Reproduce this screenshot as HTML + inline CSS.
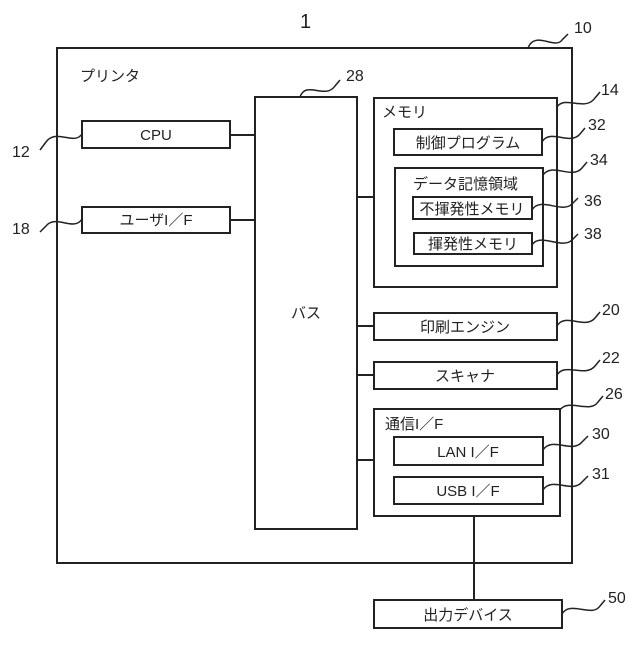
<!DOCTYPE html>
<html><head><meta charset="utf-8"><style>
html,body{margin:0;padding:0;background:#fff}
text{font-family:"Liberation Sans","Noto Sans CJK JP",sans-serif;fill:#222}
</style></head><body>
<svg width="640" height="640" viewBox="0 0 640 640" xmlns="http://www.w3.org/2000/svg">
<g fill="none" stroke="#222" stroke-width="2">
<rect x="57" y="48" width="515" height="515"/>
<rect x="255" y="97" width="102" height="432"/>
<rect x="374" y="98" width="183" height="189"/>
<rect x="394" y="129" width="148" height="26"/>
<rect x="395" y="168" width="148" height="98"/>
<rect x="413" y="197" width="119" height="22"/>
<rect x="414" y="233" width="118" height="21"/>
<rect x="374" y="313" width="183" height="27"/>
<rect x="374" y="362" width="183" height="27"/>
<rect x="374" y="409" width="186" height="107"/>
<rect x="394" y="437" width="149" height="28"/>
<rect x="394" y="477" width="149" height="27"/>
<rect x="374" y="600" width="188" height="28"/>
<rect x="82" y="121" width="148" height="27"/>
<rect x="82" y="207" width="148" height="26"/>
<line x1="230" y1="135" x2="255" y2="135"/>
<line x1="230" y1="220" x2="255" y2="220"/>
<line x1="357" y1="197" x2="374" y2="197"/>
<line x1="357" y1="326" x2="374" y2="326"/>
<line x1="357" y1="375" x2="374" y2="375"/>
<line x1="357" y1="460" x2="374" y2="460"/>
<line x1="474" y1="516" x2="474" y2="600"/>
</g>
<g fill="none" stroke="#222" stroke-width="1.5">
<path d="M528,48 C535,30 555,50 562,40 L568,34"/>
<path d="M300,97 C306,80 325,100 335,86 L340,80"/>
<path d="M557,107 C565,95 585,112 595,98 L600,92"/>
<path d="M542,142 C550,128 570,146 580,134 L585,128"/>
<path d="M543,175 C552,162 572,180 582,168 L587,162"/>
<path d="M532,210 C540,196 562,214 572,204 L578,198"/>
<path d="M532,245 C540,232 562,250 572,240 L578,234"/>
<path d="M557,326 C565,312 585,330 595,318 L600,312"/>
<path d="M557,375 C565,362 585,378 595,366 L600,360"/>
<path d="M560,410 C568,398 590,414 598,402 L603,396"/>
<path d="M543,450 C552,436 572,454 582,442 L588,436"/>
<path d="M543,490 C552,476 572,494 582,482 L588,476"/>
<path d="M562,614 C570,600 592,618 600,606 L605,600"/>
<path d="M82,134 C74,146 56,128 46,142 L40,150"/>
<path d="M82,219 C74,232 56,214 46,226 L40,232"/>
</g>
<g font-size="16">
<text x="300" y="28" font-size="20">1</text>
<text x="574" y="33">10</text>
<text x="346" y="81">28</text>
<text x="601" y="95">14</text>
<text x="588" y="130">32</text>
<text x="590" y="165">34</text>
<text x="584" y="206">36</text>
<text x="584" y="239">38</text>
<text x="602" y="315">20</text>
<text x="602" y="363">22</text>
<text x="605" y="399">26</text>
<text x="592" y="439">30</text>
<text x="592" y="479">31</text>
<text x="608" y="603">50</text>
<text x="12" y="157">12</text>
<text x="12" y="234">18</text>
<text x="80" y="81" font-size="15">プリンタ</text>
<text x="156" y="140" text-anchor="middle" font-size="15">CPU</text>
<text x="156" y="225" text-anchor="middle" font-size="15">ユーザI／F</text>
<text x="306" y="318" text-anchor="middle" font-size="15">バス</text>
<text x="382" y="117" font-size="15">メモリ</text>
<text x="468" y="148" text-anchor="middle" font-size="15">制御プログラム</text>
<text x="413" y="189" font-size="15">データ記憶領域</text>
<text x="472" y="214" text-anchor="middle" font-size="15">不揮発性メモリ</text>
<text x="473" y="249" text-anchor="middle" font-size="15">揮発性メモリ</text>
<text x="465" y="332" text-anchor="middle" font-size="15">印刷エンジン</text>
<text x="465" y="381" text-anchor="middle" font-size="15">スキャナ</text>
<text x="385" y="429" font-size="15">通信I／F</text>
<text x="468" y="457" text-anchor="middle" font-size="15">LAN I／F</text>
<text x="468" y="496" text-anchor="middle" font-size="15">USB I／F</text>
<text x="468" y="620" text-anchor="middle" font-size="15">出力デバイス</text>
</g>
</svg>
</body></html>
